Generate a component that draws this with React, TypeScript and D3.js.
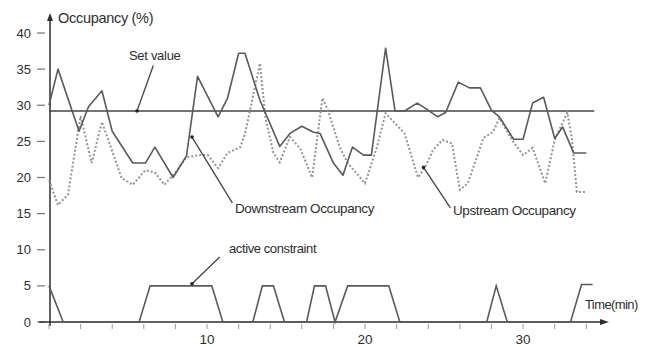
import React from 'react';
import * as d3 from 'd3';

// readings: [time (min), occupancy (%)]
const downstream: [number, number][] = [
  [0, 30], [0.57, 35], [1.9, 26.4], [2.5, 29.8], [3.35, 32], [4, 26.4], [5.3, 22],
  [6.1, 22], [6.7, 24.2], [7.85, 20], [8.7, 23], [9.4, 34], [10.7, 28.4], [11.3, 31],
  [12, 37.2], [12.4, 37.2], [13.35, 30.7], [13.8, 28.4], [14.6, 24.3], [15.25, 26.1],
  [16, 27.1], [16.7, 26.3], [17.15, 26.1], [18, 22], [18.6, 20.3], [19.2, 24.2],
  [19.9, 23.1], [20.4, 23.1], [21.3, 37.9], [21.9, 29.2], [22.5, 29.2], [23.3, 30.3],
  [23.8, 29.6], [24.6, 28.4], [25.1, 29], [25.9, 33.2], [26.6, 32.4], [27.3, 32.4],
  [28, 29.3], [28.5, 28.4], [29.4, 25.3], [30, 25.3], [30.6, 30.3], [31.3, 31.1],
  [32, 25.4], [32.5, 27], [33.2, 23.4], [34, 23.4],
];

const upstream: [number, number][] = [
  [0, 19.6], [0.57, 16.2], [1.2, 17.6], [2, 28.5], [2.7, 22], [3.35, 27.7], [4.6, 19.9],
  [5.3, 19], [6.1, 21], [6.7, 20.7], [7.3, 19], [8, 20.7], [8.7, 22.8], [9.55, 23.1],
  [10.05, 23.1], [10.7, 21.3], [11.3, 23.4], [12.1, 24.2], [12.4, 26], [13.35, 35.8],
  [13.7, 28.2], [14.2, 23.4], [14.6, 22.1], [15.25, 25.6], [15.9, 24], [16.65, 20],
  [17.3, 31], [17.65, 29.3], [18.4, 24.2], [18.9, 22], [20, 19.2], [20.75, 24.2],
  [21.3, 28.9], [22.5, 26.1], [23.35, 20], [23.8, 21.4], [24.3, 23.8], [24.9, 25.2],
  [25.5, 24.7], [26, 18.3], [26.5, 19.2], [27.5, 25.5], [28.1, 26.3], [28.5, 28.2],
  [29.3, 25.2], [30, 23.1], [30.6, 24.1], [31.4, 19.2], [32, 25.2], [32.8, 29],
  [33.1, 25.2], [33.4, 18], [34.05, 18],
];

const constraint: [number, number][] = [
  [0, 5], [0.9, 0], [5.7, 0], [6.4, 5], [10.3, 5], [11, 0], [12.9, 0], [13.5, 5],
  [14.2, 5], [14.9, 0], [16.3, 0], [16.8, 5], [17.5, 5], [18.1, 0], [18.9, 5],
  [21.5, 5], [22.2, 0], [27.7, 0], [28.3, 5], [29, 0], [33, 0], [33.7, 5.2], [34.4, 5.2],
];

const setValue = 29.2;
const setSpan = [0, 34.5];
const yTicks = [0, 5, 10, 15, 20, 25, 30, 35, 40];
const xMinor = d3.range(0, 35, 2);
const xLabels = [10, 20, 30];

const W = 650;
const H = 347;
const x = d3.scaleLinear().domain([0, 35.5]).range([49, 610]);
const y = d3.scaleLinear().domain([0, 40]).range([322, 33]);

const line = d3
  .line<[number, number]>()
  .x((d) => x(d[0]))
  .y((d) => y(d[1]));

const ink = '#2e2e2e';
const font = '"Liberation Sans", Arial, Helvetica, sans-serif';

// pointer lines: from label (data coords) to the curve they name
const pointers = [
  { from: [6.6, 35.5], to: [5.57, 29.2] },
  { from: [11.6, 16.5], to: [9.05, 25.6] },
  { from: [25.4, 15.8], to: [23.7, 21.4] },
  { from: [10.8, 9], to: [9.05, 5.3] },
];

export default function App() {
  return (
    <svg
      width={W}
      height={H}
      style={{ position: 'absolute', left: 0, top: 0, background: '#fff' }}
      fontFamily={font}
    >
      {/* y axis */}
      <line x1={50} x2={50} y1={17} y2={326} stroke={ink} strokeWidth={1.5} />
      <path d="M47,21 L50,13 L53,21 Z" fill={ink} />
      {yTicks.map((t) => (
        <g key={t}>
          <line x1={37} x2={45} y1={y(t)} y2={y(t)} stroke="#777" strokeWidth={1.2} />
          <text x={31} y={y(t) + 4.5} textAnchor="end" fontSize={13} fill={ink}>
            {t}
          </text>
        </g>
      ))}
      <text x={58} y={23} fontSize={14.5} fill={ink} letterSpacing={-0.3}>
        Occupancy (%)
      </text>

      {/* x axis */}
      <line x1={39} x2={603} y1={y(0)} y2={y(0)} stroke={ink} strokeWidth={1.5} />
      <path d={`M600,${y(0) - 3} L609,${y(0)} L600,${y(0) + 3} Z`} fill={ink} />
      {xMinor.map((t) => (
        <line key={t} x1={x(t)} x2={x(t)} y1={y(0) + 2} y2={y(0) + 7} stroke="#999" strokeWidth={1} />
      ))}
      {xLabels.map((t) => (
        <text key={t} x={x(t)} y={344} textAnchor="middle" fontSize={13.5} fill={ink}>
          {t}
        </text>
      ))}
      <text x={585} y={309} fontSize={13} fill={ink} letterSpacing={-0.6}>
        Time(min)
      </text>

      {/* set value */}
      <line
        x1={x(setSpan[0])}
        x2={x(setSpan[1])}
        y1={y(setValue)}
        y2={y(setValue)}
        stroke="#444"
        strokeWidth={1.5}
      />

      {/* series */}
      <path d={line(upstream) ?? ''} fill="none" stroke="#949494" strokeWidth={2} strokeDasharray="2,2" />
      <path d={line(downstream) ?? ''} fill="none" stroke="#5a5a5a" strokeWidth={1.6} strokeLinejoin="round" />
      <path d={line(constraint) ?? ''} fill="none" stroke="#5a5a5a" strokeWidth={1.6} />

      {/* annotations */}
      {pointers.map((p, i) => (
        <g key={i}>
          <line
            x1={x(p.from[0])}
            y1={y(p.from[1])}
            x2={x(p.to[0])}
            y2={y(p.to[1])}
            stroke="#444"
            strokeWidth={1.3}
          />
          <circle cx={x(p.to[0])} cy={y(p.to[1])} r={1.8} fill="#222" />
        </g>
      ))}
      <text x={129} y={60} fontSize={13} fill={ink} letterSpacing={-0.3}>
        Set value
      </text>
      <text x={235} y={213} fontSize={13.5} fill={ink} letterSpacing={-0.4}>
        Downstream Occupancy
      </text>
      <text x={453} y={215} fontSize={13.5} fill={ink} letterSpacing={-0.4}>
        Upstream Occupancy
      </text>
      <text x={229} y={253} fontSize={13} fill={ink} letterSpacing={-0.4}>
        active constraint
      </text>
    </svg>
  );
}
